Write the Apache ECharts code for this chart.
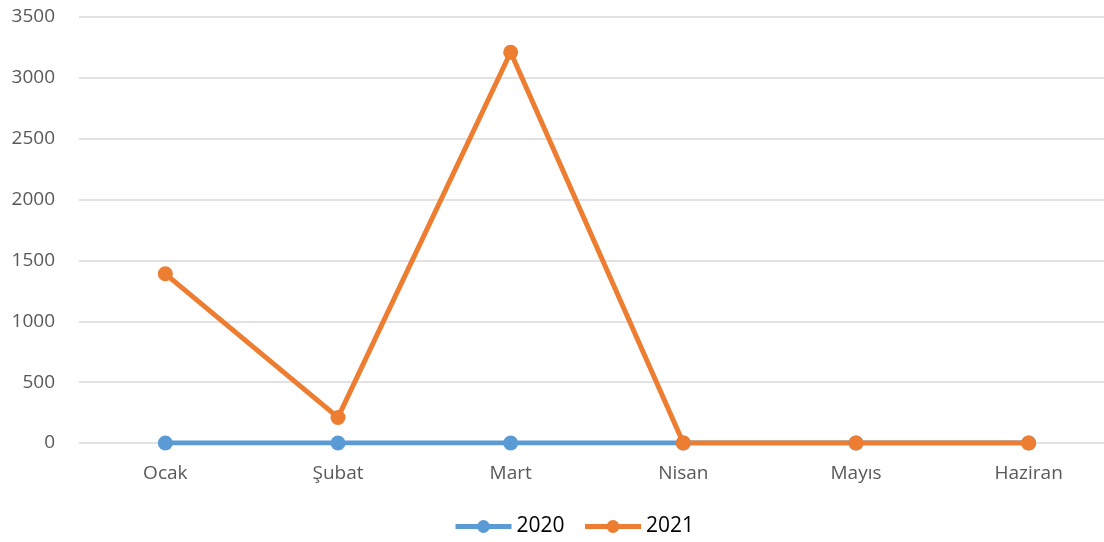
<!DOCTYPE html>
<html>
<head>
<meta charset="UTF-8">
<script src="https://cdn.jsdelivr.net/npm/echarts@6/dist/echarts.min.js"></script>
<style>
  body { margin: 0; background: #fff; }
  #chart { width: 1104px; height: 542px; }
</style>
</head>
<body>
<div id="chart"></div>
<script>
  // months and values
  const months = ['Ocak', 'Şubat', 'Mart', 'Nisan', 'Mayıs', 'Haziran'];
  const values2020 = [0, 0, 0, 0, 0, 0];
  const values2021 = [1390, 210, 3210, 0, 0, 0];

  const chart = echarts.init(document.getElementById('chart'));
  const font = 'Open Sans, Noto Sans, sans-serif';

  chart.setOption({
    animation: false,
    textStyle: { fontFamily: font },
    grid: { left: 79, width: 1036, top: 17, bottom: 99, outerBoundsMode: 'none' },
    legend: {
      top: 516,
      left: 453,
      padding: 0,
      itemWidth: 56,
      itemHeight: 16,
      itemGap: 18,
      lineStyle: { width: 5 },
      textStyle: { fontSize: 21, color: '#000', fontFamily: font },
      data: ['2020', '2021']
    },
    xAxis: {
      type: 'category',
      data: months,
      axisLine: { show: false },
      axisTick: { show: false },
      axisLabel: { color: '#595959', fontSize: 19, margin: 21 }
    },
    yAxis: {
      type: 'value',
      min: 0,
      max: 3500,
      interval: 500,
      axisLabel: { color: '#595959', fontSize: 19, margin: 24, formatter: v => String(v) },
      splitLine: { lineStyle: { color: '#d9d9d9', width: 1.5 } }
    },
    series: [
      {
        name: '2020',
        type: 'line',
        data: values2020,
        symbol: 'circle',
        symbolSize: 15,
        lineStyle: { width: 5, color: '#5B9BD5' },
        itemStyle: { color: '#5B9BD5' }
      },
      {
        name: '2021',
        type: 'line',
        data: values2021,
        symbol: 'circle',
        symbolSize: 15,
        lineStyle: { width: 5, color: '#ED7D31' },
        itemStyle: { color: '#ED7D31' }
      }
    ]
  });
</script>
</body>
</html>
